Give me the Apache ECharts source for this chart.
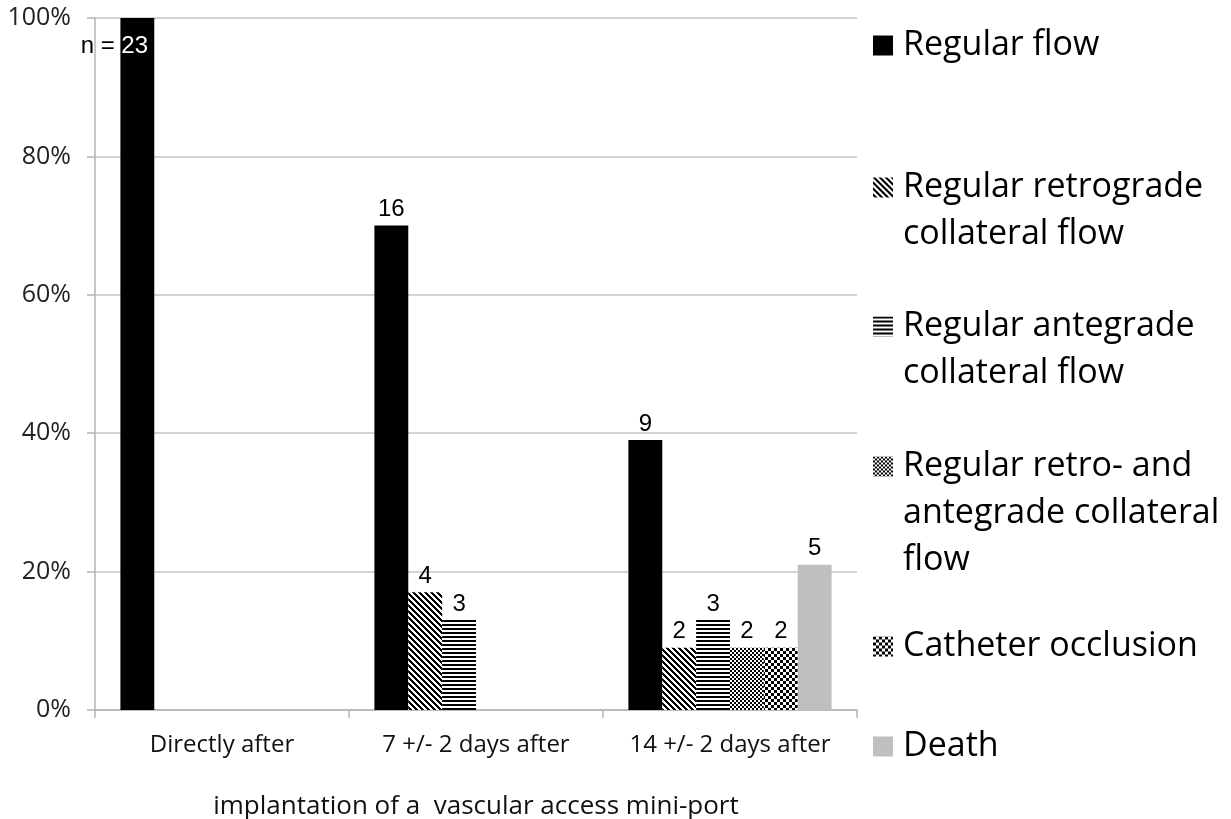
<!DOCTYPE html>
<html>
<head>
<meta charset="utf-8">
<script src="https://cdn.jsdelivr.net/npm/echarts@6/dist/echarts.min.js"></script>
<style>
  html, body { margin: 0; padding: 0; background: #fff; }
  #chart { width: 1231px; height: 819px; }
</style>
</head>
<body>
<div id="chart"></div>
<script>
// categories and values (percent of n = 23), counts shown above bars
const categories = ['Directly after', '7 +/- 2 days after', '14 +/- 2 days after'];
const seriesNames = [
  'Regular flow',
  'Regular retrograde\ncollateral flow',
  'Regular antegrade\ncollateral flow',
  'Regular retro- and\nantegrade collateral\nflow',
  'Catheter occlusion',
  'Death'
];
const regularFlow   = [100, 70, 39];
const retroFlow     = [null, 17, 9];
const anteFlow      = [null, 13, 13];
const retroAnteFlow = [null, null, 9];
const occlusion     = [null, null, 9];
const death         = [null, null, 21];

const regularN   = [23, 16, 9];
const retroN     = [null, 4, 2];
const anteN      = [null, 3, 3];
const retroAnteN = [null, null, 2];
const occlusionN = [null, null, 2];
const deathN     = [null, null, 5];

const yTicks = [0, 20, 40, 60, 80, 100];

// little canvas patterns for the hatched bars
function makePattern(size, isBlack) {
  const c = document.createElement('canvas');
  c.width = size; c.height = size;
  const ctx = c.getContext('2d');
  ctx.fillStyle = '#fff';
  ctx.fillRect(0, 0, size, size);
  ctx.fillStyle = '#000';
  for (let x = 0; x < size; x++) {
    for (let y = 0; y < size; y++) {
      if (isBlack(x, y)) ctx.fillRect(x, y, 1, 1);
    }
  }
  return { image: c, repeat: 'repeat' };
}

const diagPattern = makePattern(6, (x, y) => (((x - y) % 6) + 6) % 6 < 3);
const horizPattern = makePattern(4, (x, y) => y % 4 < 2);
const densePattern = makePattern(4, (x, y) => (Math.floor(x / 2) + Math.floor(y / 2)) % 2 === 0);
const checkPattern = makePattern(6, (x, y) => (Math.floor(x / 3) + Math.floor(y / 3)) % 2 === 0);

const values = [regularFlow, retroFlow, anteFlow, retroAnteFlow, occlusion, death];
const counts = [regularN, retroN, anteN, retroAnteN, occlusionN, deathN];
const fills = ['#000000', diagPattern, horizPattern, densePattern, checkPattern, '#bfbfbf'];

const labelFont = {
  fontFamily: 'Liberation Sans',
  fontSize: 24,
  color: '#000'
};

function buildData(idx) {
  return values[idx].map((v, i) => {
    if (idx === 0 && i === 0) {
      // "n = 23" sits inside the top of the first bar
      return {
        value: v,
        label: {
          show: true,
          position: 'insideTop',
          distance: 16,
          offset: [-23, 0],
          formatter: '{n|n = }{v|' + counts[idx][i] + '}',
          rich: {
            n: { fontFamily: 'Liberation Sans', fontSize: 24, color: '#000' },
            v: { fontFamily: 'Liberation Sans', fontSize: 24, color: '#fff' }
          }
        }
      };
    }
    return v;
  });
}

const series = seriesNames.map((name, idx) => ({
  name: name,
  type: 'bar',
  barGap: 0,
  barCategoryGap: '20%',
  itemStyle: { color: fills[idx] },
  label: {
    show: true,
    position: 'top',
    distance: 4,
    ...labelFont,
    formatter: p => counts[idx][p.dataIndex] == null ? '' : String(counts[idx][p.dataIndex])
  },
  data: buildData(idx)
}));

// one legend per entry so that each can sit where the original had it;
// blank lines on top keep the icon level with the first line of text
const legendTops = [22, 117, 256, 349, 623, 723];
const legends = seriesNames.map((name, idx) => {
  const lines = name.split('\n').length;
  return {
    data: [name],
    orient: 'vertical',
    left: 873,
    top: legendTops[idx],
    padding: 0,
    itemWidth: 20,
    itemHeight: 20,
    icon: 'rect',
    selectedMode: false,
    formatter: n => '\n'.repeat(lines - 1) + n,
    textStyle: {
      fontFamily: 'Open Sans',
      fontSize: 34,
      color: '#000',
      lineHeight: 47,
      padding: [0, 0, 0, 5]
    }
  };
});

const chart = echarts.init(document.getElementById('chart'));
chart.setOption({
  animation: false,
  backgroundColor: '#fff',
  grid: { left: 95, right: 374, top: 18, bottom: 109, outerBoundsMode: 'none', containLabel: false },
  legend: legends,
  xAxis: {
    type: 'category',
    data: categories,
    name: 'implantation of a  vascular access mini-port',
    nameLocation: 'middle',
    nameGap: 84,
    nameTextStyle: { fontFamily: 'Open Sans', fontSize: 26, color: '#111' },
    axisLine: { lineStyle: { color: '#b5b5b5', width: 1.5 } },
    axisTick: { show: true, length: 8, lineStyle: { color: '#b5b5b5', width: 1.5 } },
    axisLabel: { interval: 0, margin: 23, fontFamily: 'Open Sans', fontSize: 24, color: '#111' }
  },
  yAxis: {
    type: 'value',
    min: yTicks[0],
    max: yTicks[yTicks.length - 1],
    interval: 20,
    axisLine: { show: true, lineStyle: { color: '#b5b5b5', width: 1.5 } },
    axisTick: { show: true, length: 8, lineStyle: { color: '#b5b5b5', width: 1.5 } },
    splitLine: { lineStyle: { color: '#c4c4c4', width: 1.5 } },
    axisLabel: {
      margin: 24,
      fontFamily: 'Open Sans',
      fontSize: 25,
      color: '#222',
      formatter: '{value}%'
    }
  },
  series: series
});
</script>
</body>
</html>
